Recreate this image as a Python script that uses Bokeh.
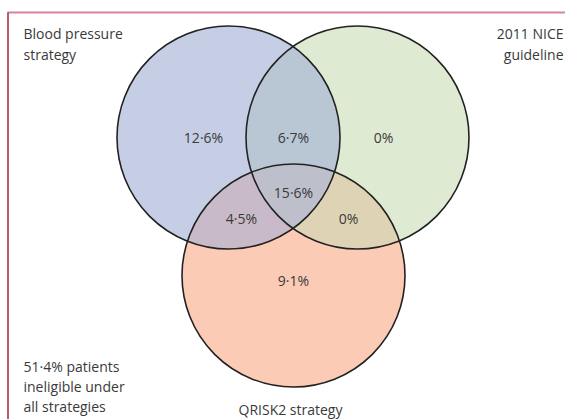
import numpy as np
from bokeh.plotting import figure
from bokeh.models import Range1d
from bokeh.core.properties import value
from bokeh.embed import file_html
from bokeh.resources import INLINE

# --- data -------------------------------------------------------------
set_names = [["Blood pressure", "strategy"], ["2011 NICE", "guideline"], ["QRISK2 strategy"]]
set_colors = ["#c6cee6", "#dfead3", "#fccbb5"]
# circle geometry in page pixels (layout)
cx = [228.0, 357.0, 293.0]
cy = [137.0, 137.0, 275.0]
r = 111.5

region_labels = ["12·6%", "6·7%", "0%", "15·6%", "4·5%", "0%", "9·1%"]
region_x = [203, 293, 383, 293, 241, 348, 293]
region_y = [137, 137, 137, 192, 218, 218, 280]

pair_sets = [(0, 1), (0, 2), (1, 2)]
pair_colors = ["#b9c7d5", "#c8bac8", "#dfd3b5"]
triple_color = "#bdbfcb"

outside_label = ["51·4% patients", "ineligible under", "all strategies"]

FONT = "Open Sans"
TXT = "#3a3a3a"

# --- figure -----------------------------------------------------------
W, H = 565, 419
p = figure(width=W, height=H, x_range=Range1d(0, W), y_range=Range1d(H, 0),
           output_backend="svg", toolbar_location=None, min_border=0)
p.axis.visible = False
p.grid.visible = False
p.outline_line_color = None
p.background_fill_color = "white"
p.border_fill_color = "white"

# frame lines
p.segment(x0=[7], y0=[12], x1=[565], y1=[12], line_color="#d8839a", line_width=2)
p.segment(x0=[7.5], y0=[12], x1=[7.5], y1=[419], line_color="#a5243f", line_width=1.5)

# base circles
p.circle(x=cx, y=cy, radius=r, fill_color=set_colors, line_color=None)


def region(idx, n=1440):
    xs, ys = [], []
    t = np.linspace(0, 2 * np.pi, n, endpoint=False)
    for i in idx:
        px = cx[i] + r * np.cos(t)
        py = cy[i] + r * np.sin(t)
        keep = np.ones(n, bool)
        for j in idx:
            if j != i:
                keep &= (px - cx[j]) ** 2 + (py - cy[j]) ** 2 <= (r + 1e-6) ** 2
        xs.append(px[keep]); ys.append(py[keep])
    xs = np.concatenate(xs); ys = np.concatenate(ys)
    mx, my = xs.mean(), ys.mean()
    order = np.argsort(np.arctan2(ys - my, xs - mx))
    return xs[order], ys[order]


for s, c in zip(pair_sets, pair_colors):
    xs, ys = region(s)
    p.patch(xs, ys, fill_color=c, line_color=None)
xs, ys = region((0, 1, 2))
p.patch(xs, ys, fill_color=triple_color, line_color=None)

# outlines
p.circle(x=cx, y=cy, radius=r, fill_color=None, line_color="#222222", line_width=1.6)

common = dict(text_font=value(FONT), text_font_size="14px", text_color=TXT,
              text_baseline="middle")

# region labels
p.text(x=region_x, y=region_y, text=region_labels, text_align="center", **common)

# set labels
p.text(x=[23, 23], y=[33, 54], text=set_names[0], text_align="left", **common)
p.text(x=[563, 563], y=[33, 54], text=set_names[1], text_align="right", **common)
p.text(x=[290], y=[408.5], text=set_names[2], text_align="center", **common)
p.text(x=[23, 23, 23], y=[366, 386, 406], text=outside_label, text_align="left", **common)

open("out.html", "w").write(file_html(p, INLINE))
